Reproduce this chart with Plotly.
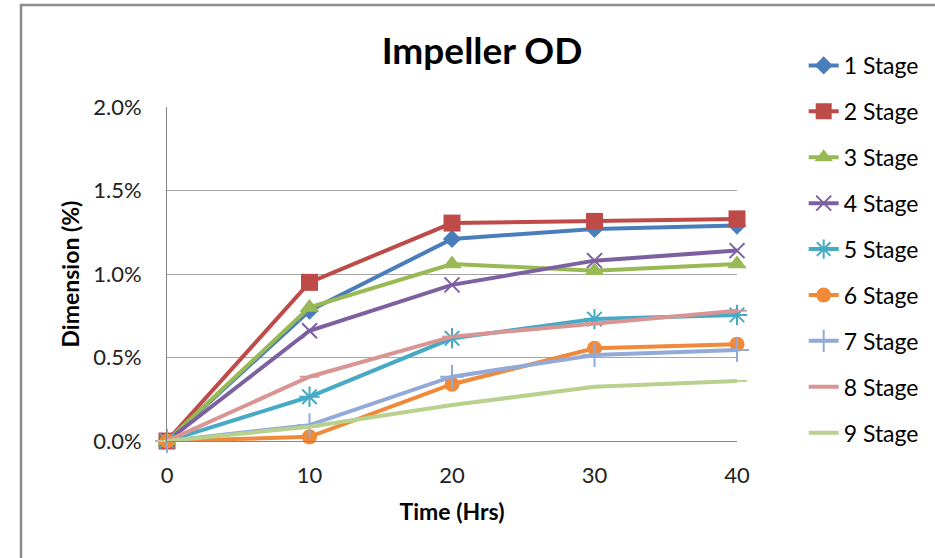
import plotly.graph_objects as go

hours = [0, 10, 20, 30, 40]
series_names = ["1 Stage", "2 Stage", "3 Stage", "4 Stage", "5 Stage",
                "6 Stage", "7 Stage", "8 Stage", "9 Stage"]
stage1 = [0.0, 0.78, 1.21, 1.27, 1.29]
stage2 = [0.0, 0.95, 1.305, 1.315, 1.33]
stage3 = [0.0, 0.80, 1.06, 1.02, 1.06]
stage4 = [0.0, 0.66, 0.935, 1.08, 1.14]
stage5 = [0.0, 0.265, 0.615, 0.73, 0.755]
stage6 = [0.0, 0.025, 0.34, 0.555, 0.58]
stage7 = [0.0, 0.095, 0.385, 0.515, 0.545]
stage8 = [0.0, 0.385, 0.625, 0.705, 0.78]
stage9 = [0.0, 0.085, 0.215, 0.325, 0.36]
values = [stage1, stage2, stage3, stage4, stage5, stage6, stage7, stage8, stage9]

colors = ["#4A7EBB", "#BE4B48", "#98B954", "#7D60A0", "#46AAC5",
          "#F08A3A", "#93A9D8", "#D99594", "#B9D18F"]
symbols = ["diamond", "square", "triangle-up", "x-thin", "asterisk-open",
           "circle", "cross-thin", "line-ew", "line-ew"]
sizes = [14, 17, 17, 15, 17, 15, 17, 14, 14]

FONT = "Lato, Carlito, Calibri, sans-serif"

fig = go.Figure()
for i, (name, vals) in enumerate(zip(series_names, values)):
    thin = symbols[i] in ("x-thin", "asterisk-open", "cross-thin", "line-ew")
    fig.add_trace(go.Scatter(
        x=hours, y=vals, name=name, mode="lines+markers",
        legendgroup=name,
        line=dict(color=colors[i], width=4),
        marker=dict(symbol=symbols[i], size=sizes[i], color=colors[i],
                    line=dict(color=colors[i], width=2 if thin else 0)),
        cliponaxis=False,
    ))

# outer chart border (left and top)
fig.add_shape(type="path", xref="paper", yref="paper",
              path="M -0.2561,-0.4 L -0.2561,1.3054 L 1.40,1.3054",
              line=dict(color="#8C8C8C", width=2.5))

fig.update_layout(
    width=935, height=558,
    margin=dict(l=167, r=198, t=107, b=117, autoexpand=False),
    paper_bgcolor="white", plot_bgcolor="white",
    font=dict(family=FONT, color="#000000", size=22),
    title=dict(text="<b>Impeller OD</b>", x=482/935, xanchor="center",
               y=1-51/558, yanchor="middle",
               font=dict(family=FONT, size=37, color="#000000")),
    showlegend=True,
    legend=dict(x=1.117, xanchor="left",
                y=(441-44)/334, yanchor="top", maxheight=480,
                traceorder="grouped", tracegroupgap=13,
                font=dict(family=FONT, size=23, color="#000000"),
                bgcolor="rgba(0,0,0,0)"),
    xaxis=dict(range=[0, 40], tickvals=hours, showgrid=False,
               showline=True, linecolor="#868686", linewidth=1,
               ticks="", zeroline=False, ticklabelstandoff=15,
               tickfont=dict(size=22, color="#222222"),
               title=dict(text="<b>Time (Hrs)</b>", standoff=16,
                          font=dict(size=23, color="#000000"))),
    yaxis=dict(range=[0, 2.0], tickvals=[0, 0.5, 1.0, 1.5, 2.0],
               ticktext=["0.0%", "0.5%", "1.0%", "1.5%", "2.0%"],
               showgrid=True, gridcolor="#A6A6A6", gridwidth=1,
               showline=True, linecolor="#868686", linewidth=1,
               ticks="", zeroline=False, ticklabelstandoff=20,
               tickfont=dict(size=22, color="#222222"),
               title=dict(text="<b>Dimension (%)</b>", standoff=7,
                          font=dict(size=23, color="#000000"))),
)

fig.write_html("out.html")
